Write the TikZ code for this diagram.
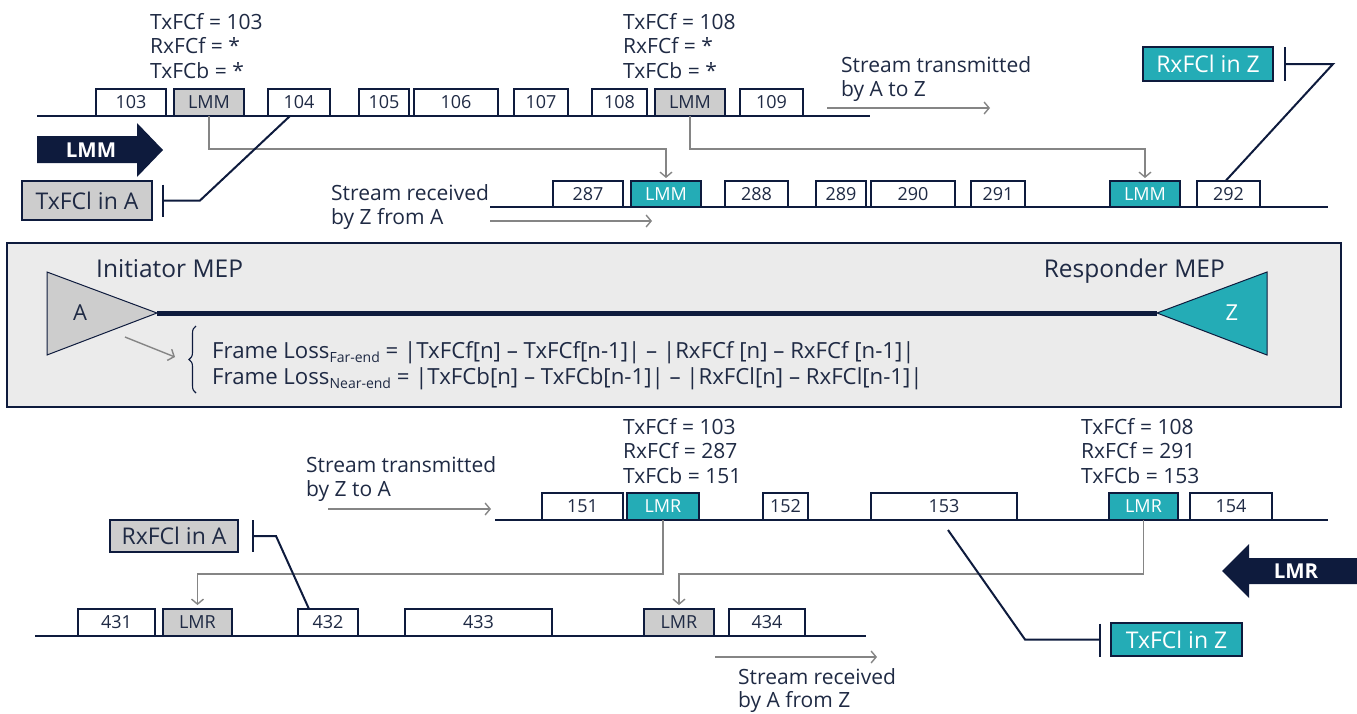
\documentclass[tikz,border=0pt]{standalone}
\usepackage{fontspec}
\setmainfont{Open Sans}
\usetikzlibrary{arrows.meta,decorations.pathreplacing,calc}
\definecolor{navy}{HTML}{0E1B3D}
\definecolor{ink}{HTML}{1F2A44}
\definecolor{nteal}{HTML}{24ACB6}
\definecolor{boxgray}{HTML}{CDCDCD}
\definecolor{panel}{HTML}{EBEBEB}
\definecolor{flow}{HTML}{858585}
% packet box: style, name, x-left, x-right, y-top, y-bottom, text
\newcommand\pkt[7]{\node[#1, minimum width={(#4)-(#3)}, minimum height={(#6)-(#5)}] (#2) at ({((#3)+(#4))/2},{((#5)+(#6))/2}) {#7};}
\begin{document}
\begin{tikzpicture}[x=1pt,y=-1pt,
  pkt/.style={draw=navy, line width=1.2pt, fill=white, text=ink, font=\fontsize{18}{18}\selectfont, inner sep=0pt, outer sep=0pt},
  pktgray/.style={pkt, fill=boxgray},
  pktteal/.style={pkt, fill=nteal, text=white},
  tag/.style={pkt, font=\fontsize{23}{23}\selectfont},
  taggray/.style={tag, fill=boxgray},
  tagteal/.style={tag, fill=nteal, text=white},
  lbl/.style={text=ink, font=\fontsize{21}{24.5}\selectfont, align=left, anchor=north west, inner sep=0pt},
  rowline/.style={draw=navy, line width=1.8pt},
  flowline/.style={draw=flow, line width=1.4pt, -{Straight Barb[length=5pt,width=12pt]}},
  callout/.style={draw=navy, line width=2pt},
  bigarrow/.style={fill=navy},
  bigtxt/.style={text=white, font=\fontsize{20.5}{20.5}\selectfont\bfseries, inner sep=0pt},
  eq/.style={text=ink, font=\fontsize{22.2}{22.2}\selectfont, anchor=base west, inner sep=0pt}]
\useasboundingbox (0,0) rectangle (1357,713);

% ---------- stream transmitted by A ----------
\draw[rowline] (37,116) coordinate (r1a) -- (870,116) coordinate (r1b);
\pkt{pkt}{a103}{96}{166}{89}{116}{103}
\pkt{pktgray}{lmmA1}{174}{244}{89}{116}{LMM}
\pkt{pkt}{a104}{268}{330}{89}{116}{104}
\pkt{pkt}{a105}{359}{409}{89}{116}{105}
\pkt{pkt}{a106}{414}{498}{89}{116}{106}
\pkt{pkt}{a107}{514}{568}{89}{116}{107}
\pkt{pkt}{a108}{592}{647}{89}{116}{108}
\pkt{pktgray}{lmmA2}{655}{725}{89}{116}{LMM}
\pkt{pkt}{a109}{740}{803}{89}{116}{109}

\node[lbl] (cnt1) at (150,13) {TxFCf = 103\\RxFCf = *\\TxFCb = *};
\node[lbl] (cnt2) at (623,13) {TxFCf = 108\\RxFCf = *\\TxFCb = *};
\node[lbl] (txtAZ) at (841,56) {Stream transmitted\\by A to Z};
\coordinate (sAZa) at (827,108);
\coordinate (sAZb) at (990,108);
\draw[flowline] (sAZa) -- (sAZb);

% LMM direction arrow
\fill[bigarrow] (37,136) -- (137,136) -- (137,123) -- (163,150) -- (137,177) -- (137,163) -- (37,163) -- cycle;
\node[bigtxt] (lmmlbl) at (91,150) {LMM};

% ---------- stream received by Z ----------
\draw[rowline] (490,207) coordinate (r2a) -- (1328,207) coordinate (r2b);
\pkt{pkt}{z287}{553}{623}{181}{207}{287}
\pkt{pktteal}{lmmZ1}{631}{701}{181}{207}{LMM}
\pkt{pkt}{z288}{725}{788}{181}{207}{288}
\pkt{pkt}{z289}{816}{866}{181}{207}{289}
\pkt{pkt}{z290}{871}{955}{181}{207}{290}
\pkt{pkt}{z291}{971}{1025}{181}{207}{291}
\pkt{pktteal}{lmmZ2}{1110}{1180}{181}{207}{LMM}
\pkt{pkt}{z292}{1197}{1260}{181}{207}{292}

\node[lbl] (txtZA) at (331,184) {Stream received\\by Z from A};
\coordinate (sZAa) at (490,221);
\coordinate (sZAb) at (652,221);
\draw[flowline] (sZAa) -- (sZAb);

\draw[flowline] (lmmA1.south) -- ++(0,33) -| ($(lmmZ1.north)+(0,-3)$);
\draw[flowline] (lmmA2.south) -- ++(0,33) -| ($(lmmZ2.north)+(0,-3)$);

% counter read-outs
\pkt{taggray}{txA}{22}{152}{181}{220}{TxFCl in A}
\draw[callout] ($(txA.east)+(11,-16)$) -- ++(0,32);
\draw[callout] ($(txA.east)+(11,0)$) -- ++(37,0) -- ($(a104.south)+(-9,0)$);

\pkt{tagteal}{rxZ}{1143}{1273}{47}{81}{RxFCl in Z}
\draw[callout] ($(rxZ.east)+(12,-17)$) -- ++(0,34);
\draw[callout] ($(rxZ.east)+(12,0)$) -- ++(48,0) -- ($(z292.north)+(-3,0)$);

% ---------- MEP panel ----------
\draw[navy, line width=1.2pt, fill=panel] (7,243) rectangle (1341,407);
\coordinate (Atip) at (157,313);
\coordinate (Ztip) at (1157,313);
\draw[navy, line width=5pt] (Atip) -- (Ztip);
\filldraw[draw=navy, line width=1pt, fill=boxgray] (47,272) -- (Atip) -- (47,355) -- cycle;
\filldraw[draw=navy, line width=1pt, fill=nteal] (1267,272) -- (Ztip) -- (1267,355) -- cycle;
\node[text=ink, font=\fontsize{22}{22}\selectfont] (mepA) at (80,313) {A};
\node[text=white, font=\fontsize{22}{22}\selectfont] (mepZ) at (1232,313) {Z};
\node[text=ink, font=\fontsize{24.5}{24.5}\selectfont, anchor=base west, inner sep=0pt] (init) at (96,277) {Initiator MEP};
\node[text=ink, font=\fontsize{24.5}{24.5}\selectfont, anchor=base east, inner sep=0pt] (resp) at (1225,277) {Responder MEP};

\coordinate (fa) at (125,337);
\coordinate (fb) at (175,357);
\draw[flowline] (fa) -- (fb);
\draw[navy, line width=1.1pt, decorate, decoration={brace, amplitude=7pt}] (196,393) coordinate (brb) -- (196,326) coordinate (brt);
\node[eq] (eq1) at (212,358)
  {Frame Loss\raisebox{-0.35ex}{\fontsize{14}{14}\selectfont Far-end} = |TxFCf[n] – TxFCf[n-1]| – |RxFCf [n] – RxFCf [n-1]|};
\node[eq] (eq2) at (212,384)
  {Frame Loss\raisebox{-0.35ex}{\fontsize{14}{14}\selectfont Near-end} = |TxFCb[n] – TxFCb[n-1]| – |RxFCl[n] – RxFCl[n-1]|};

% ---------- stream transmitted by Z ----------
\node[lbl] (cnt3) at (623,418) {TxFCf = 103\\RxFCf = 287\\TxFCb = 151};
\node[lbl] (cnt4) at (1081,418) {TxFCf = 108\\RxFCf = 291\\TxFCb = 153};
\node[lbl] (txtZtoA) at (306,456) {Stream transmitted\\by Z to A};
\coordinate (sZtAa) at (328,509);
\coordinate (sZtAb) at (491,509);
\draw[flowline] (sZtAa) -- (sZtAb);

\draw[rowline] (495,520) coordinate (r3a) -- (1328,520) coordinate (r3b);
\pkt{pkt}{z151}{542}{623}{493}{520}{151}
\pkt{pktteal}{lmrZ1}{627}{699}{493}{520}{LMR}
\pkt{pkt}{z152}{763}{808}{493}{520}{152}
\pkt{pkt}{z153}{871}{1017}{493}{520}{153}
\pkt{pktteal}{lmrZ2}{1109}{1178}{493}{520}{LMR}
\pkt{pkt}{z154}{1190}{1272}{493}{520}{154}

% LMR direction arrow
\fill[bigarrow] (1357,558) -- (1249,558) -- (1249,544) -- (1222,571) -- (1249,598) -- (1249,584) -- (1357,584) -- cycle;
\node[bigtxt] (lmrlbl) at (1296,571) {LMR};

% ---------- stream received by A ----------
\draw[rowline] (35,636) coordinate (r4a) -- (866,636) coordinate (r4b);
\pkt{pkt}{a431}{78}{155}{609}{636}{431}
\pkt{pktgray}{lmrA1}{163}{232}{609}{636}{LMR}
\pkt{pkt}{a432}{298}{358}{609}{636}{432}
\pkt{pkt}{a433}{405}{552}{609}{636}{433}
\pkt{pktgray}{lmrA2}{644}{714}{609}{636}{LMR}
\pkt{pkt}{a434}{729}{805}{609}{636}{434}

\draw[flowline] (lmrZ1.south) -- ++(0,54) -| ($(lmrA1.north)+(0,-4)$);
\draw[flowline] (lmrZ2.south) -- ++(0,54) -| ($(lmrA2.north)+(0,-4)$);

\coordinate (sAra) at (715,657);
\coordinate (sArb) at (877,657);
\draw[flowline] (sAra) -- (sArb);
\node[lbl, font=\fontsize{21}{23.5}\selectfont] (txtAr) at (738,668) {Stream received\\by A from Z};

\pkt{taggray}{rxA}{110}{238}{520}{552}{RxFCl in A}
\draw[callout] ($(rxA.east)+(15,-16)$) -- ++(0,32);
\draw[callout] ($(rxA.east)+(15,0)$) -- ++(23,0) -- ($(a432.north)+(-19,0)$);

\pkt{tagteal}{txZ}{1111}{1242}{623}{656}{TxFCl in Z}
\draw[callout] ($(txZ.west)+(-11,-16)$) -- ++(0,33);
\draw[callout] ($(txZ.west)+(-11,0)$) -- ++(-75,0) -- ($(z153.south)+(4,10)$);
\end{tikzpicture}
\end{document}
